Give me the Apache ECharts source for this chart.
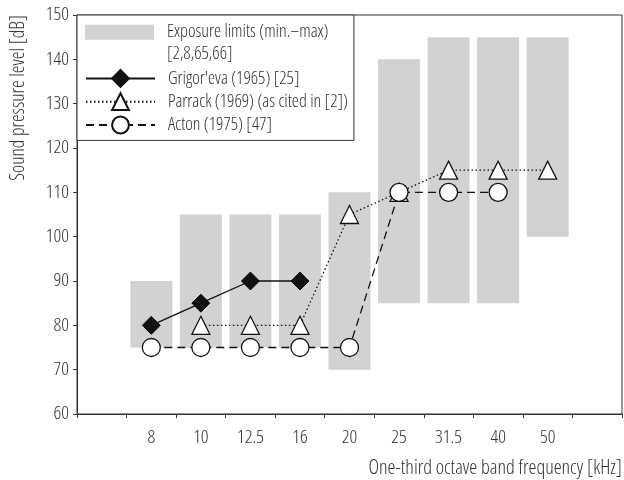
<!DOCTYPE html>
<html>
<head>
<meta charset="utf-8">
<script src="https://cdn.jsdelivr.net/npm/echarts@6/dist/echarts.min.js"></script>
<style>html,body{margin:0;padding:0;background:#fff}#c{width:624px;height:480px}</style>
</head>
<body>
<div id="c"></div>
<script>
var categories = ['', '8', '10', '12.5', '16', '20', '25', '31.5', '40', '50', ''];
var limitsMin = [null, 75, 75, 75, 75, 70, 85, 85, 85, 100, null];
var limitsMax = [null, 90, 105, 105, 105, 110, 140, 145, 145, 145, null];
var grigoreva = [null, 80, 85, 90, 90, null, null, null, null, null, null];
var parrack = [null, null, 80, 80, 80, 105, 110, 115, 115, 115, null];
var acton = [null, 75, 75, 75, 75, 75, 110, 110, 110, null, null];
var yTicks = [60, 150, 10];

var FONT = '"Open Sans", "DejaVu Sans Condensed", sans-serif';
var FS = 'condensed';
var FW = 350;
var TXT = '#333';
var AX = '#333';
var GRAY = '#d1d2d4';
var LIM_NAME = 'Exposure limits (min.\u2013max)';

var limitsRange = limitsMax.map(function (v, i) {
  return v == null ? null : v - limitsMin[i];
});

var chart = echarts.init(document.getElementById('c'), null, {renderer: 'canvas'});
chart.setOption({
  animation: false,
  backgroundColor: '#fff',
  textStyle: {fontFamily: FONT, fontStyle: FS, fontWeight: FW},
  grid: {left: 77, right: 2, top: 15, bottom: 66, show: true, borderColor: AX, borderWidth: 1, backgroundColor: 'transparent'},
  xAxis: {
    type: 'category',
    data: categories,
    boundaryGap: true,
    axisLine: {lineStyle: {color: AX, width: 1}},
    axisTick: {show: true, interval: 0, length: 4, inside: false, lineStyle: {color: AX}},
    axisLabel: {interval: 0, margin: 14, fontSize: 19, color: TXT, fontFamily: FONT, fontStyle: FS, fontWeight: FW},
    splitLine: {show: false}
  },
  yAxis: {
    type: 'value',
    min: yTicks[0], max: yTicks[1], interval: yTicks[2],
    axisLine: {show: true, lineStyle: {color: AX, width: 1}},
    axisTick: {show: true, length: 4, inside: false, lineStyle: {color: AX}},
    axisLabel: {margin: 8, fontSize: 19, color: TXT, fontFamily: FONT, fontStyle: FS, fontWeight: FW},
    splitLine: {show: false}
  },
  legend: [
    {
      left: 77, top: 15,
      orient: 'vertical',
      padding: [54, 6, 6, 8],
      itemGap: 4.5,
      itemWidth: 69, itemHeight: 21,
      backgroundColor: '#fff',
      borderColor: AX, borderWidth: 1, borderRadius: 0,
      textStyle: {fontSize: 18, color: TXT, fontFamily: FONT, fontStyle: FS, fontWeight: FW, padding: [0, 0, 0, 8]},
      data: ["Grigor'eva (1965) [25]", 'Parrack (1969) (as cited in [2])', 'Acton (1975) [47]'],
      selectedMode: false,
      z: 5
    },
    {
      left: 77, top: 0,
      orient: 'vertical',
      padding: [0, 0, 0, 8],
      itemWidth: 69, itemHeight: 15,
      icon: 'rect',
      formatter: function (name) { return '\n' + name + '\n[2,8,65,66]'; },
      textStyle: {fontSize: 18, lineHeight: 21.5, color: TXT, fontFamily: FONT, fontStyle: FS, fontWeight: FW, padding: [0, 0, 0, 8]},
      data: [LIM_NAME],
      selectedMode: false,
      z: 6
    }
  ],
  graphic: [
    {
      type: 'text',
      x: 18, y: 15,
      rotation: Math.PI / 2,
      style: {text: 'Sound pressure level [dB]', fontSize: 19.5, fontFamily: FONT, fontStyle: FS, fontWeight: FW, fill: TXT, align: 'right', verticalAlign: 'middle'}
    },
    {
      type: 'text',
      x: 622, y: 468,
      style: {text: 'One-third octave band frequency [kHz]', fontSize: 20, fontFamily: FONT, fontStyle: FS, fontWeight: FW, fill: TXT, align: 'right', verticalAlign: 'middle'}
    }
  ],
  series: [
    {
      name: 'base', type: 'bar', stack: 'lim', data: limitsMin, barWidth: 42,
      itemStyle: {color: 'rgba(0,0,0,0)'}, silent: true, z: 1
    },
    {
      name: LIM_NAME, type: 'bar', stack: 'lim', data: limitsRange, barWidth: 42,
      itemStyle: {color: GRAY}, silent: true, z: 1
    },
    {
      name: "Grigor'eva (1965) [25]", type: 'line', data: grigoreva,
      symbol: 'diamond', symbolSize: 18,
      lineStyle: {color: '#111', width: 1.3, type: 'solid'},
      itemStyle: {color: '#111', borderColor: '#111', borderWidth: 1},
      z: 3
    },
    {
      name: 'Parrack (1969) (as cited in [2])', type: 'line', data: parrack,
      symbol: 'triangle', symbolSize: 18,
      lineStyle: {color: '#111', width: 1.3, type: [1.5, 2.5]},
      itemStyle: {color: '#fff', borderColor: '#111', borderWidth: 1.3},
      z: 3
    },
    {
      name: 'Acton (1975) [47]', type: 'line', data: acton,
      symbol: 'circle', symbolSize: 18,
      lineStyle: {color: '#111', width: 1.3, type: [8, 5]},
      itemStyle: {color: '#fff', borderColor: '#111', borderWidth: 1.3},
      z: 3
    }
  ]
});
</script>
</body>
</html>
